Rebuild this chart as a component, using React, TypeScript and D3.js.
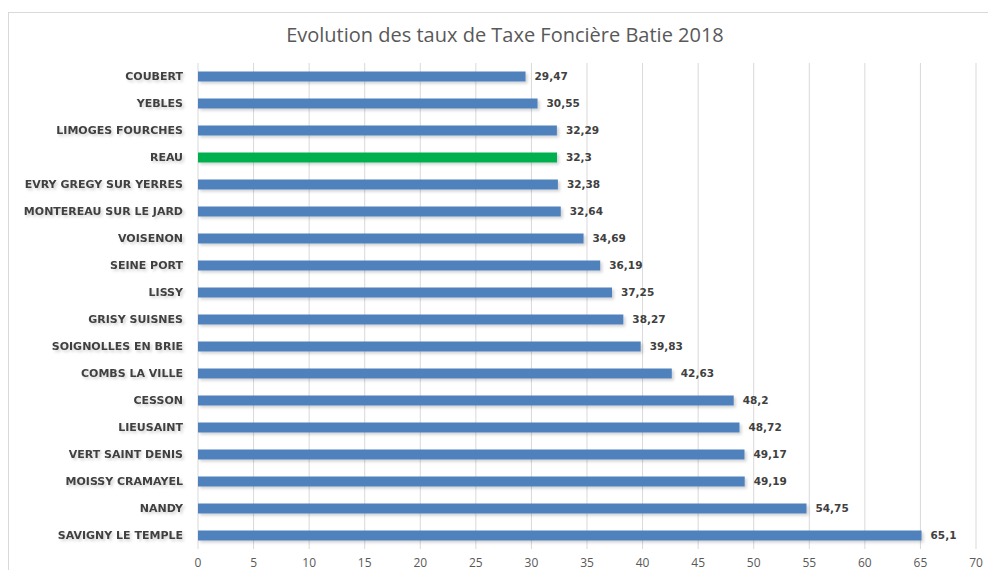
import React from "react";
import * as d3 from "d3";

const categories = [
  "COUBERT", "YEBLES", "LIMOGES FOURCHES", "REAU", "EVRY GREGY SUR YERRES",
  "MONTEREAU SUR LE JARD", "VOISENON", "SEINE PORT", "LISSY", "GRISY SUISNES",
  "SOIGNOLLES EN BRIE", "COMBS LA VILLE", "CESSON", "LIEUSAINT", "VERT SAINT DENIS",
  "MOISSY CRAMAYEL", "NANDY", "SAVIGNY LE TEMPLE",
];
const values = [29.47, 30.55, 32.29, 32.3, 32.38, 32.64, 34.69, 36.19, 37.25, 38.27, 39.83, 42.63, 48.2, 48.72, 49.17, 49.19, 54.75, 65.1];
const highlight = "REAU";
const xTicks = [0, 5, 10, 15, 20, 25, 30, 35, 40, 45, 50, 55, 60, 65, 70];
const title = "Evolution des taux de Taxe Foncière Batie 2018";

const W = 988, H = 570;
const left = 198, right = 976, top = 63, bottom = 549;
const font = "'Open Sans', 'Liberation Sans', sans-serif";
const boldFont = "'DejaVu Sans', Verdana, sans-serif";

export default function App() {
  const x = d3.scaleLinear().domain([0, 70]).range([left, right]);
  const y = d3.scaleBand<string>().domain(categories).range([top, bottom]).paddingInner(0.63).paddingOuter(0.315);
  const fmt = (v: number) => String(v).replace(".", ",");
  return (
    <svg width={W} height={H} style={{ position: "absolute", left: 0, top: 0, background: "#fff" }}>
      <defs>
        <filter id="sh" x="-10%" y="-50%" width="120%" height="220%">
          <feDropShadow dx="2" dy="2" stdDeviation="1.5" floodColor="#000" floodOpacity="0.18" />
        </filter>
      </defs>
      <rect x={8.5} y={12.5} width={1000} height={600} fill="#fff" stroke="#d9d9d9" />
      <text x={505} y={42} textAnchor="middle" fontFamily={font} fontSize={20} fill="#595959">{title}</text>
      {xTicks.map((t) => (
        <g key={t}>
          <line x1={x(t)} x2={x(t)} y1={top} y2={bottom} stroke="#d9d9d9" strokeWidth={1} />
          <text x={x(t)} y={567} textAnchor="middle" fontFamily={font} fontSize={12} fill="#595959">{t}</text>
        </g>
      ))}
      {categories.map((c, i) => {
        const by = y(c)!;
        const bh = y.bandwidth();
        const cy = by + bh / 2;
        return (
          <g key={c}>
            <rect x={x(0)} y={by} width={x(values[i]) - x(0)} height={bh}
              fill={c === highlight ? "#00b050" : "#4f81bd"} filter="url(#sh)" />
            <text x={183} y={cy} dy="0.36em" textAnchor="end" fontFamily={boldFont} fontWeight="bold"
              fontSize={11} fill="#404040" filter="url(#sh)">{c}</text>
            <text x={x(values[i]) + 9} y={cy} dy="0.36em" fontFamily={boldFont} fontWeight="bold"
              fontSize={10.5} fill="#404040">{fmt(values[i])}</text>
          </g>
        );
      })}
    </svg>
  );
}
